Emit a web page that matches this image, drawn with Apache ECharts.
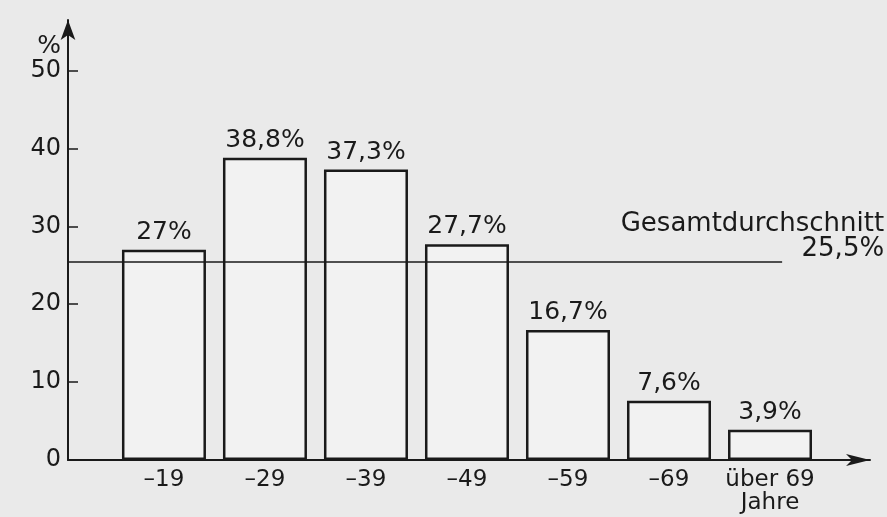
<!DOCTYPE html>
<html>
<head>
<meta charset="utf-8">
<script src="https://cdn.jsdelivr.net/npm/echarts@6/dist/echarts.min.js"></script>
<style>
  html, body { margin: 0; padding: 0; background: #eaeaea; }
  #chart { width: 887px; height: 517px; }
</style>
</head>
<body>
<div id="chart"></div>
<script>
// Daten
const categories = ['–19', '–29', '–39', '–49', '–59', '–69', 'über 69\nJahre'];
const values = [27, 38.8, 37.3, 27.7, 16.7, 7.6, 3.9];
const average = 25.5;
const yTicks = [0, 10, 20, 30, 40, 50];

const font = 'DejaVu Sans';
const ink = '#1a1a1a';

const chart = echarts.init(document.getElementById('chart'));

// Zahl mit Dezimalkomma
function fmt(v) {
    return String(v).replace('.', ',') + '%';
}

const option = {
    backgroundColor: '#eaeaea',
    animation: false,
    grid: { left: 68, right: 17, top: 20, bottom: 57 },
    xAxis: {
        type: 'value',
        min: -0.95,
        max: 6.99,
        splitLine: { show: false },
        axisTick: { show: false },
        axisLine: {
            onZero: false,
            lineStyle: { color: ink, width: 2 },
            symbol: ['none', 'arrow'],
            symbolSize: [9, 24]
        },
        axisLabel: {
            customValues: categories.map((c, i) => i),
            formatter: v => categories[Math.round(v)] || '',
            color: ink,
            fontFamily: font,
            fontSize: 23,
            lineHeight: 23,
            margin: 9,
            verticalAlign: 'top'
        }
    },
    yAxis: {
        type: 'value',
        min: 0,
        max: 56.5,
        name: '%',
        nameLocation: 'end',
        nameGap: -26,
        nameTextStyle: {
            color: ink, fontFamily: font, fontSize: 25,
            align: 'right', verticalAlign: 'middle', padding: [0, 7, 0, 0]
        },
        splitLine: { show: false },
        axisLine: {
            show: true,
            onZero: false,
            lineStyle: { color: ink, width: 2 },
            symbol: ['none', 'arrow'],
            symbolSize: [11, 20]
        },
        axisTick: {
            show: true,
            inside: true,
            length: 10,
            customValues: yTicks.slice(1),
            lineStyle: { color: ink, width: 1.5 }
        },
        axisLabel: {
            customValues: yTicks,
            color: ink,
            fontFamily: font,
            fontSize: 24,
            margin: 7
        }
    },
    series: [{
        type: 'bar',
        data: values.map((v, i) => [i, v]),
        barWidth: 84,
        itemStyle: {
            color: 'rgba(255,255,255,0.4)',
            borderColor: ink,
            borderWidth: 2.5
        },
        label: {
            show: true,
            position: 'top',
            distance: 5,
            color: ink,
            fontFamily: font,
            fontSize: 25,
            formatter: p => fmt(p.value[1])
        },
        markLine: {
            silent: true,
            symbol: 'none',
            lineStyle: { color: ink, width: 1.5, type: 'solid' },
            label: {
                show: true,
                position: 'end',
                distance: [102, 0],
                align: 'right',
                verticalAlign: 'bottom',
                color: ink,
                fontFamily: font,
                fontSize: 26,
                lineHeight: 25,
                formatter: 'Gesamtdurchschnitt\n' + fmt(average)
            },
            data: [[{ coord: [-0.95, average] }, { coord: [6.12, average] }]]
        }
    }]
};

chart.setOption(option);
</script>
</body>
</html>
